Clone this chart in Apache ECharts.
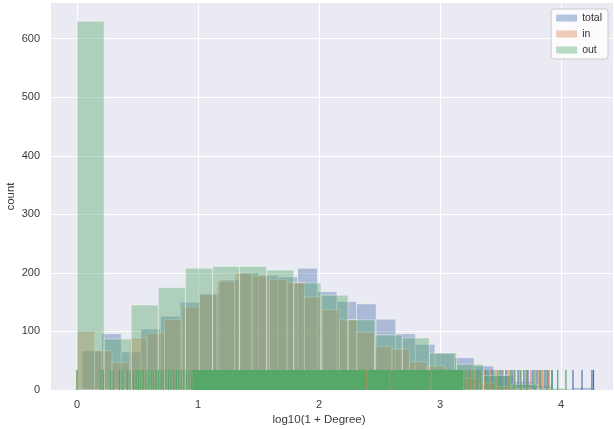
<!DOCTYPE html>
<html><head><meta charset="utf-8">
<script src="https://cdn.jsdelivr.net/npm/echarts@6/dist/echarts.min.js"></script>
<style>html,body{margin:0;padding:0;background:#fff}#c{width:614px;height:429px}</style>
</head><body><div id="c"></div>
<script>
// ---- data ----
const seriesNames = ['total', 'in', 'out'];

// histogram bins: first edge, bin width, counts
const totalBinStart = 0.042, totalBinWidth = 0.162;
const totalCounts = [67, 96, 65, 104, 126, 150, 165, 188, 200, 196, 193, 208, 168, 151, 147, 121, 96, 78, 63, 55, 41, 25, 14, 7, 2, 4];

const inBinStart = 0.0, inBinWidth = 0.1446;
const inCounts = [100, 67, 47, 89, 97, 120, 142, 163, 186, 199, 195, 189, 184, 159, 137, 120, 98, 74, 70, 48, 41, 30, 20, 12, 6, 3, 1];

const outBinStart = 0.0, outBinWidth = 0.224;
const outCounts = [630, 87, 145, 175, 208, 211, 211, 205, 183, 162, 120, 94, 89, 63, 44, 25, 10, 3];

// rug values
const totalRug = [3.248, 3.314, 3.380, 3.430, 3.496, 3.545, 3.595, 3.645, 3.694, 3.727, 3.769, 3.802, 3.826, 3.868, 3.893, 3.926, 4.099, 4.174, 4.256, 4.269];
const inRug = [0.0, 2.394, 2.587, 2.926, 3.190, 3.215, 3.256, 3.289, 3.339, 3.364, 3.413, 3.463, 3.521, 3.562, 3.620, 3.661, 3.711, 3.752, 3.810, 3.851, 3.901];
const outRug = [0.0, 0.198, 0.217, 0.278, 0.300, 0.350, 0.374, 0.416, 0.438, 0.466, 0.488, 0.507, 0.527, 0.548, 0.570, 0.589, 0.612, 0.631, 0.653, 0.672, 0.694, 0.713, 0.735, 0.758, 0.777, 0.799, 0.821, 0.841, 0.862, 0.882, 0.903, 0.926, 0.948,
  3.207, 3.231, 3.273, 3.306, 3.331, 3.397, 3.446, 3.479, 3.512, 3.579, 3.612, 3.669, 3.719, 3.785, 3.835, 3.884, 3.926, 3.973, 4.041];
// stretches where the out-rug is so dense it reads as a solid band
const outRugBands = [[0.955, 2.390], [2.398, 2.584], [2.591, 2.922], [2.930, 3.190]];

const xTickValues = [0, 1, 2, 3, 4];
const yTickValues = [0, 100, 200, 300, 400, 500, 600];
const xLabel = 'log10(1 + Degree)';
const yLabel = 'count';

// ---- styling ----
const colors = { total: '#4C72B0', in: '#DD8452', out: '#55A868' };
const fills = { total: 'rgba(76,114,176,0.4)', in: 'rgba(221,132,82,0.4)', out: 'rgba(85,168,104,0.4)' };
const FONT = '"Liberation Sans", Arial, sans-serif';
const RUG_FRAC = 0.052;

function bins(start, width, counts) {
  return counts.map((c, i) => [start + i * width, start + (i + 1) * width, c]);
}

function histSeries(name, data) {
  return {
    type: 'custom', name: name, data: data, encode: { x: [0, 1], y: 2 },
    itemStyle: { color: fills[name] },
    renderItem: function (params, api) {
      const p0 = api.coord([api.value(0), api.value(2)]);
      const p1 = api.coord([api.value(1), 0]);
      return { type: 'rect', shape: { x: p0[0], y: p0[1], width: p1[0] - p0[0], height: p1[1] - p0[1] },
        style: { fill: fills[name], stroke: 'rgba(255,255,255,0.4)', lineWidth: 1 } };
    }
  };
}
function rugSeries(name, values) {
  return {
    type: 'custom', name: name + ' rug', data: values.map(v => [v]), encode: { x: 0 },
    renderItem: function (params, api) {
      const p = api.coord([api.value(0), 0]);
      const h = params.coordSys.height * RUG_FRAC;
      return { type: 'line', shape: { x1: p[0], y1: p[1], x2: p[0], y2: p[1] - h },
        style: { stroke: colors[name], lineWidth: 1.2 } };
    }
  };
}
function bandSeries(name, bands) {
  return {
    type: 'custom', name: name + ' band', data: bands, encode: { x: [0, 1] },
    renderItem: function (params, api) {
      const a = api.coord([api.value(0), 0]);
      const b = api.coord([api.value(1), 0]);
      const h = params.coordSys.height * RUG_FRAC;
      return { type: 'rect', shape: { x: a[0], y: a[1] - h, width: b[0] - a[0], height: h },
        style: { fill: colors[name] } };
    }
  };
}
const isTick = (v, list) => list.some(t => Math.abs(t - v) < 1e-6);

const chart = echarts.init(document.getElementById('c'), null, { renderer: 'canvas' });
chart.setOption({
  animation: false,
  textStyle: { fontFamily: FONT },
  grid: { left: 51, right: 1, top: 3, bottom: 39, containLabel: false, outerBoundsMode: 'none',
    show: true, backgroundColor: '#EAEAF2', borderWidth: 0 },
  legend: {
    orient: 'vertical', right: 6, top: 9,
    data: seriesNames.map(n => ({ name: n, icon: 'rect' })),
    itemWidth: 21, itemHeight: 7, itemGap: 4,
    padding: [3, 6, 3, 5],
    backgroundColor: 'rgba(255,255,255,0.8)', borderColor: '#cccccc', borderWidth: 1, borderRadius: 3,
    textStyle: { fontSize: 10.5, color: '#333', fontFamily: FONT, lineHeight: 12 },
    selectedMode: false
  },
  xAxis: {
    type: 'value', min: -0.215, max: 4.43, splitNumber: 5,
    axisLine: { show: false }, axisTick: { show: false },
    splitLine: { show: true, showMinLine: false, showMaxLine: false, lineStyle: { color: '#ffffff', width: 1 } },
    axisLabel: { color: '#3a3a3a', fontSize: 11, margin: 9, fontFamily: FONT,
      formatter: v => isTick(v, xTickValues) ? String(Math.round(v)) : '' },
    name: xLabel, nameLocation: 'middle', nameGap: 24, nameMoveOverlap: false,
    nameTextStyle: { fontSize: 11.5, color: '#3a3a3a', fontFamily: FONT, padding: [0, 26, 0, 0] }
  },
  yAxis: {
    type: 'value', min: 0, max: 661, interval: 100,
    axisLine: { show: false }, axisTick: { show: false },
    splitLine: { show: true, showMinLine: false, showMaxLine: false, lineStyle: { color: '#ffffff', width: 1 } },
    axisLabel: { color: '#3a3a3a', fontSize: 11, margin: 11, fontFamily: FONT,
      formatter: v => isTick(v, yTickValues) ? String(Math.round(v)) : '' },
    name: yLabel, nameLocation: 'middle', nameRotate: 90, nameGap: 34, nameMoveOverlap: false,
    nameTextStyle: { fontSize: 11.5, color: '#3a3a3a', fontFamily: FONT }
  },
  series: [
    histSeries('total', bins(totalBinStart, totalBinWidth, totalCounts)),
    rugSeries('total', totalRug),
    histSeries('in', bins(inBinStart, inBinWidth, inCounts)),
    rugSeries('in', inRug),
    histSeries('out', bins(outBinStart, outBinWidth, outCounts)),
    bandSeries('out', outRugBands),
    rugSeries('out', outRug)
  ]
});
</script></body></html>
